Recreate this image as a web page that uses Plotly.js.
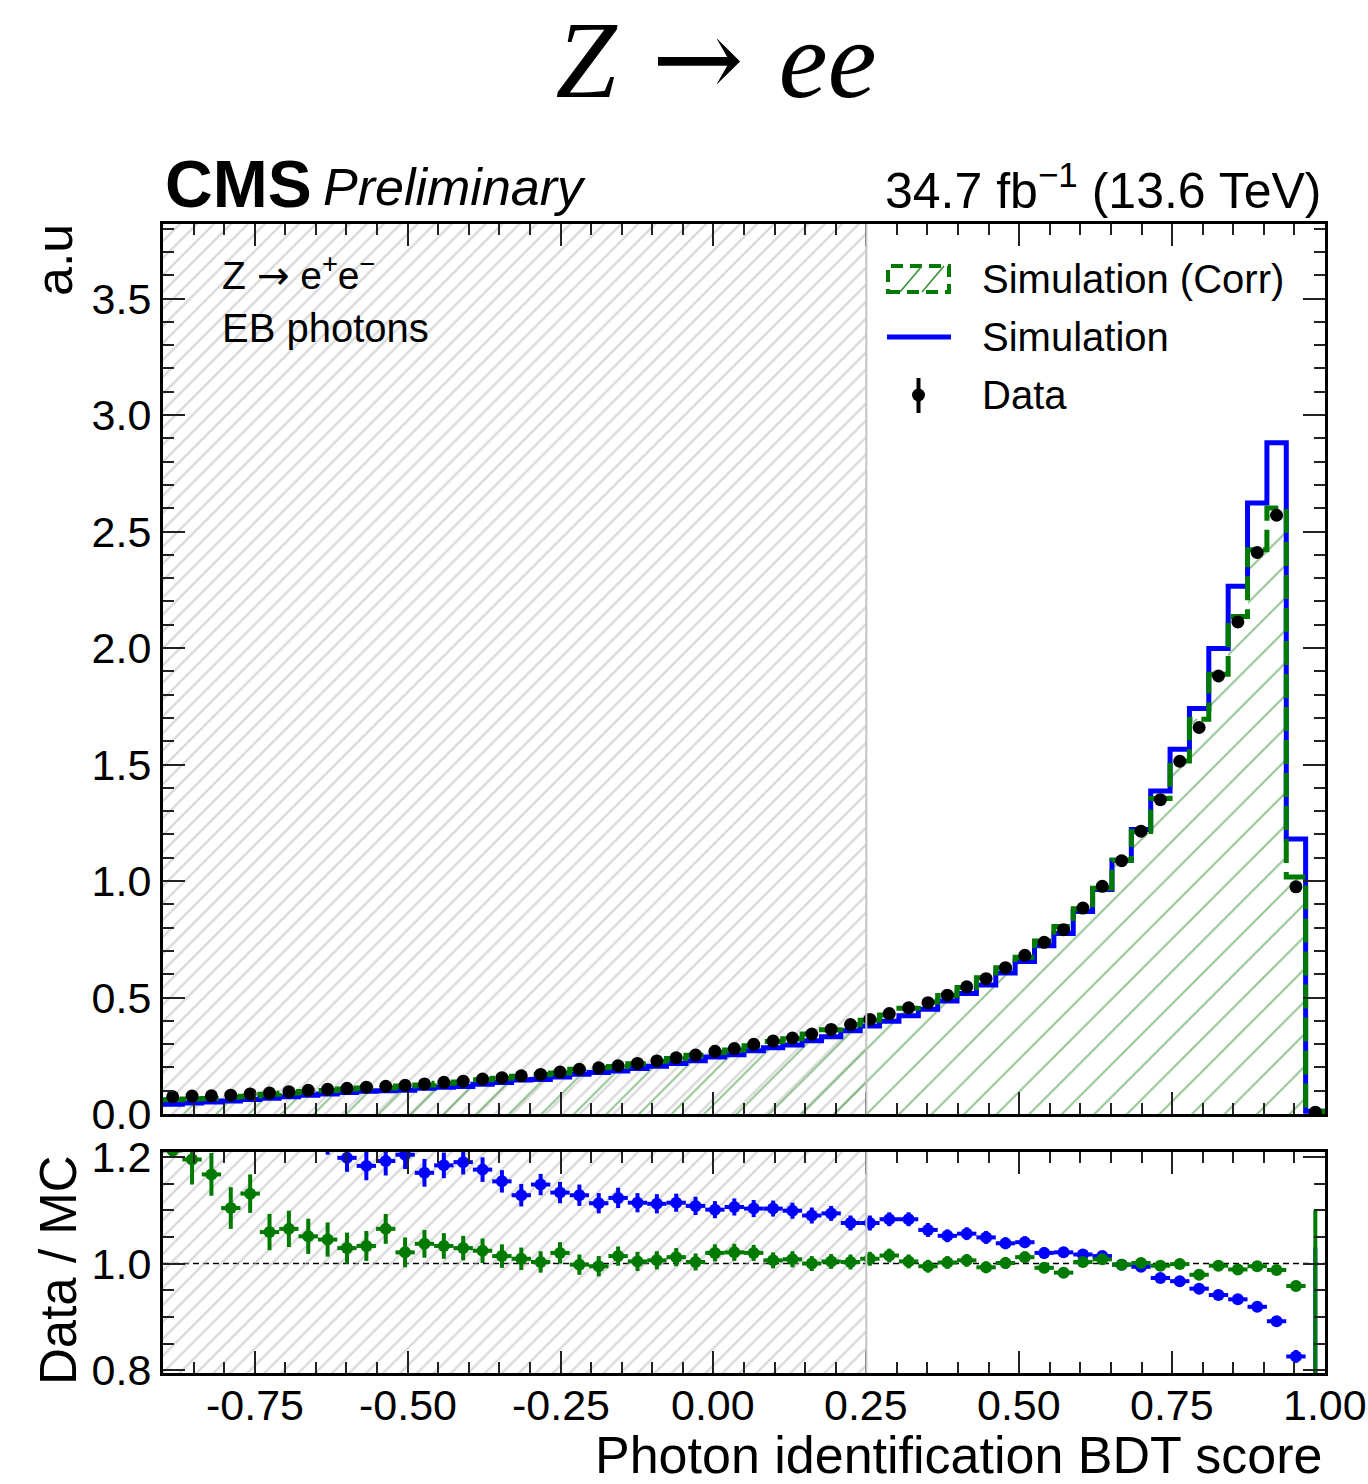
<!DOCTYPE html>
<html><head><meta charset="utf-8">
<script src="https://cdn.plot.ly/plotly-3.0.1.min.js"></script>
<style>html,body{margin:0;padding:0;background:#fff;}#chart{width:1368px;height:1484px;}</style>
</head><body><div id="chart"></div>
<script>
// ---- binning ----
const binLow = -0.9, binHigh = 1.0, nBins = 60;
const hatchHigh = 0.25;      // end of hatched (excluded) region
const refLine = 1.0;

// ---- data ----
const dataVals = [0.074,0.077,0.078,0.081,0.086,0.090,0.096,0.102,0.106,0.110,
  0.115,0.119,0.123,0.129,0.136,0.141,0.150,0.156,0.164,0.170,
  0.180,0.192,0.198,0.207,0.217,0.228,0.241,0.253,0.269,0.281,
  0.299,0.313,0.326,0.343,0.363,0.384,0.406,0.431,0.456,0.478,
  0.510,0.546,0.581,0.628,0.681,0.737,0.791,0.884,0.977,1.087,
  1.214,1.349,1.514,1.659,1.880,2.112,2.410,2.570,0.975,0.008];
const simVals = [0.0423,0.0475,0.0513,0.0559,0.0619,0.0672,0.0738,0.0803,0.0855,0.0918,
  0.0972,0.0998,0.1022,0.1103,0.1149,0.1185,0.1276,0.1352,0.1455,0.1481,
  0.1589,0.1703,0.1780,0.1843,0.1948,0.2050,0.2163,0.2284,0.2443,0.2541,
  0.2711,0.2839,0.2966,0.3147,0.3318,0.3569,0.3773,0.3982,0.4212,0.4499,
  0.4848,0.5170,0.5539,0.6053,0.6548,0.7225,0.7747,0.8692,0.9635,1.0892,
  1.2213,1.3864,1.5657,1.7408,1.9979,2.2649,2.6224,2.8812,1.1804,0.0115];
const simCorrVals = [0.0611,0.0644,0.0668,0.0734,0.0760,0.0850,0.0901,0.0971,0.1014,0.1069,
  0.1113,0.1117,0.1205,0.1244,0.1317,0.1370,0.1465,0.1538,0.1625,0.1695,
  0.1765,0.1924,0.1990,0.2041,0.2161,0.2266,0.2381,0.2522,0.2637,0.2752,
  0.2931,0.3111,0.3234,0.3430,0.3616,0.3829,0.4024,0.4246,0.4542,0.4804,
  0.5090,0.5427,0.5851,0.6274,0.6729,0.7429,0.8047,0.8814,0.9692,1.0892,
  1.2128,1.3544,1.5155,1.6946,1.8876,2.1355,2.4221,2.6012,1.0177,0.0114];
const ratioSim = [1.75,1.62,1.52,1.45,1.39,1.34,1.30,1.27,1.24,1.198,
  1.183,1.192,1.204,1.170,1.184,1.190,1.176,1.154,1.128,1.148,
  1.133,1.128,1.113,1.123,1.114,1.112,1.114,1.108,1.101,1.106,
  1.103,1.103,1.099,1.090,1.094,1.076,1.076,1.083,1.083,1.063,
  1.052,1.056,1.049,1.038,1.040,1.020,1.021,1.017,1.014,0.998,
  0.994,0.973,0.967,0.953,0.941,0.933,0.919,0.892,0.826,0.70];
const ratioSimErr = [0.06,0.055,0.05,0.048,0.045,0.042,0.04,0.038,0.036,0.026,
  0.027,0.027,0.027,0.026,0.024,0.023,0.023,0.021,0.021,0.020,
  0.020,0.020,0.019,0.019,0.018,0.018,0.017,0.017,0.016,0.016,
  0.016,0.015,0.015,0.015,0.014,0.014,0.014,0.013,0.013,0.013,
  0.012,0.012,0.012,0.011,0.011,0.011,0.010,0.010,0.010,0.009,
  0.009,0.009,0.008,0.008,0.008,0.007,0.007,0.007,0.012,0.33];
const ratioSimCorr = [1.212,1.195,1.167,1.104,1.131,1.059,1.065,1.051,1.045,1.029,
  1.033,1.065,1.021,1.037,1.033,1.029,1.024,1.014,1.009,1.003,
  1.020,0.998,0.995,1.014,1.004,1.006,1.012,1.003,1.020,1.021,
  1.020,1.006,1.008,1.000,1.004,1.003,1.009,1.015,1.004,0.995,
  1.002,1.006,0.993,1.001,1.012,0.992,0.983,1.003,1.008,0.998,
  1.001,0.996,0.999,0.979,0.996,0.989,0.995,0.988,0.958,0.70];
const ratioSimCorrErr = [0.012,0.047,0.040,0.039,0.036,0.034,0.034,0.033,0.032,0.029,
  0.028,0.028,0.028,0.026,0.024,0.023,0.023,0.022,0.021,0.020,
  0.020,0.019,0.019,0.018,0.018,0.017,0.017,0.016,0.016,0.016,
  0.015,0.015,0.015,0.014,0.014,0.014,0.013,0.013,0.013,0.012,
  0.012,0.012,0.011,0.011,0.011,0.010,0.010,0.010,0.009,0.009,
  0.009,0.008,0.008,0.008,0.007,0.007,0.007,0.006,0.010,0.400];

// ---- tick labels ----
const xTickVals = [-0.75,-0.50,-0.25,0.00,0.25,0.50,0.75,1.00];
const xTickText = ['-0.75','-0.50','-0.25','0.00','0.25','0.50','0.75','1.00'];
const yTickVals = [0,0.5,1.0,1.5,2.0,2.5,3.0,3.5];
const yTickText = ['0.0','0.5','1.0','1.5','2.0','2.5','3.0','3.5'];
const rTickVals = [0.8,1.0,1.2];
const rTickText = ['0.8','1.0','1.2'];

// ---- derived bin geometry ----
const binW = (binHigh - binLow) / nBins;
const centers = dataVals.map((_, i) => binLow + (i + 0.5) * binW);
const edges = Array.from({length: nBins + 1}, (_, i) => binLow + i * binW);
const stepX = edges.concat([binHigh]);
const stepY = v => v.concat([v[v.length - 1], 0]);

// ---- styles ----
const GREEN = '#007a00', BLUE = '#0000ff';
const SANS = 'Liberation Sans, Arial, Helvetica, sans-serif';
const W = 1368, H = 1484;
const L = 163, R = 1325, T = 224, B = 1373;
const px = x => (x - L) / (R - L);
const py = y => (B - y) / (B - T);
const mainBottom = 1114, ratioTop = 1152;
const grayHatch = {shape:'/', fgcolor:'#b4b4b4', bgcolor:'rgba(0,0,0,0)', size:12, solidity:0.2, fillmode:'overlay'};

const traces = [
  {type:'bar', x:[(binLow + hatchHigh) / 2], y:[10], base:[0], width:[hatchHigh - binLow],
   xaxis:'x', yaxis:'y', hoverinfo:'skip', showlegend:false,
   marker:{color:'rgba(0,0,0,0)', line:{width:0}, pattern:grayHatch}},
  {type:'bar', x:[(binLow + hatchHigh) / 2], y:[2], base:[0], width:[hatchHigh - binLow],
   xaxis:'x2', yaxis:'y2', hoverinfo:'skip', showlegend:false,
   marker:{color:'rgba(0,0,0,0)', line:{width:0}, pattern:grayHatch}},
  {type:'bar', x:centers, y:simCorrVals, width:binW, xaxis:'x', yaxis:'y', showlegend:false,
   marker:{color:'rgba(0,0,0,0)', line:{width:0},
     pattern:{shape:'/', fgcolor:'#278a27', bgcolor:'rgba(0,0,0,0)', size:23, solidity:0.09, fillmode:'overlay'}}},
  {type:'scatter', mode:'lines', x:stepX, y:stepY(simVals), xaxis:'x', yaxis:'y', showlegend:false,
   line:{shape:'hv', color:BLUE, width:5}},
  {type:'scatter', mode:'lines', x:stepX, y:stepY(simCorrVals), xaxis:'x', yaxis:'y', showlegend:false,
   line:{shape:'hv', color:GREEN, width:5, dash:'24px,9px'}},
  {type:'scatter', mode:'markers', x:centers, y:dataVals, xaxis:'x', yaxis:'y', showlegend:false,
   marker:{color:'black', size:13}},
  {type:'scatter', mode:'markers', x:centers, y:ratioSim, xaxis:'x2', yaxis:'y2', showlegend:false,
   marker:{color:BLUE, size:12},
   error_y:{type:'data', array:ratioSimErr, color:BLUE, thickness:4, width:0},
   error_x:{type:'constant', value:binW / 2, color:BLUE, thickness:4, width:0}},
  {type:'scatter', mode:'markers', x:centers, y:ratioSimCorr, xaxis:'x2', yaxis:'y2', showlegend:false,
   marker:{color:GREEN, size:12},
   error_y:{type:'data', array:ratioSimCorrErr, color:GREEN, thickness:4, width:0},
   error_x:{type:'constant', value:binW / 2, color:GREEN, thickness:4, width:0}}
];

const axBase = {
  showline:true, linecolor:'black', linewidth:3, mirror:'allticks',
  ticks:'inside', ticklen:22, tickwidth:2, tickcolor:'#222',
  showgrid:false, zeroline:false, tickmode:'array',
  tickfont:{family:SANS, size:43, color:'black'}
};
const minorX = {ticks:'inside', ticklen:11, tickwidth:2, tickcolor:'#222', tickmode:'linear', tick0:0, dtick:0.05, showgrid:false};

const annotations = [
  {text:'<b>CMS</b>', xref:'paper', yref:'paper', x:0, y:py(184), xanchor:'left', yanchor:'middle', showarrow:false,
   font:{family:SANS, size:66, color:'black'}},
  {text:'<i>Preliminary</i>', xref:'paper', yref:'paper', x:px(321), y:py(187), xanchor:'left', yanchor:'middle', showarrow:false,
   font:{family:SANS, size:52, color:'black'}},
  {text:'34.7 fb<sup>−1</sup> (13.6 TeV)', xref:'paper', yref:'paper', x:px(1323), y:py(187), xanchor:'right', yanchor:'middle', showarrow:false,
   font:{family:SANS, size:50, color:'black'}},
  {text:'Z <span style="font-family:DejaVu Sans">→</span> e<sup>+</sup>e<sup>−</sup>', xref:'paper', yref:'paper', x:px(220), y:py(273), xanchor:'left', yanchor:'middle', showarrow:false,
   font:{family:SANS, size:39, color:'black'}},
  {text:'EB photons', xref:'paper', yref:'paper', x:px(220), y:py(328), xanchor:'left', yanchor:'middle', showarrow:false,
   font:{family:SANS, size:40, color:'black'}},
  {text:'Simulation (Corr)', xref:'paper', yref:'paper', x:px(980), y:py(279), xanchor:'left', yanchor:'middle', showarrow:false,
   font:{family:SANS, size:40, color:'black'}},
  {text:'Simulation', xref:'paper', yref:'paper', x:px(980), y:py(337), xanchor:'left', yanchor:'middle', showarrow:false,
   font:{family:SANS, size:40, color:'black'}},
  {text:'Data', xref:'paper', yref:'paper', x:px(980), y:py(395), xanchor:'left', yanchor:'middle', showarrow:false,
   font:{family:SANS, size:40, color:'black'}},
  {text:'a.u', xref:'paper', yref:'paper', x:px(54), y:py(222), xanchor:'center', yanchor:'top', textangle:-90, showarrow:false,
   font:{family:SANS, size:52, color:'black'}},
  {text:'Data / MC', xref:'paper', yref:'paper', x:px(58), y:py(1270), xanchor:'center', yanchor:'middle', textangle:-90, showarrow:false,
   font:{family:SANS, size:51, color:'black'}},
  {text:'Photon identification BDT score', xref:'paper', yref:'paper', x:px(1324), y:py(1455), xanchor:'right', yanchor:'middle', showarrow:false,
   font:{family:SANS, size:52, color:'black'}}
];
// x tick labels of the ratio panel, placed at their tick values
xTickVals.forEach((v, i) => annotations.push({
  text:xTickText[i], xref:'x2', x:v, yref:'paper', y:py(1405), xanchor:'center', yanchor:'middle',
  showarrow:false, font:{family:SANS, size:43, color:'black'}}));

const layout = {
  width:W, height:H, paper_bgcolor:'white', plot_bgcolor:'white',
  margin:{l:L, r:W - R, t:T, b:H - B, pad:0},
  barmode:'overlay', bargap:0, showlegend:false,
  title:{text:'<i>Z</i><span style="font-family:DejaVu Serif"> → </span><i>ee</i>',
    font:{family:'Liberation Serif, Times New Roman, serif', size:110, color:'black'},
    xref:'container', x:716 / W, xanchor:'center', yref:'container', y:1 - 58 / H, yanchor:'middle'},
  xaxis:Object.assign({}, axBase, {range:[binLow, binHigh], tickvals:xTickVals, ticktext:xTickText,
    showticklabels:false, anchor:'y', minor:minorX}),
  xaxis2:Object.assign({}, axBase, {range:[binLow, binHigh], tickvals:xTickVals, ticktext:xTickText,
    showticklabels:false, anchor:'y2', matches:'x', minor:minorX}),
  yaxis:Object.assign({}, axBase, {range:[0, 3.82], tickvals:yTickVals, ticktext:yTickText,
    domain:[py(mainBottom), 1], anchor:'x', ticklabelstandoff:0,
    minor:{ticks:'inside', ticklen:11, tickwidth:2, tickcolor:'#222', tickmode:'linear', tick0:0, dtick:0.1}}),
  yaxis2:Object.assign({}, axBase, {range:[0.795, 1.209], tickvals:rTickVals, ticktext:rTickText,
    domain:[0, py(ratioTop)], anchor:'x2', ticklabelstandoff:0,
    minor:{ticks:'inside', ticklen:11, tickwidth:2, tickcolor:'#222', tickmode:'linear', tick0:0, dtick:0.05}}),
  shapes:[
    {type:'line', xref:'x', yref:'y domain', x0:hatchHigh, x1:hatchHigh, y0:0, y1:1, line:{color:'#c4c4c4', width:2}},
    {type:'line', xref:'x2', yref:'y2 domain', x0:hatchHigh, x1:hatchHigh, y0:0, y1:1, line:{color:'#c4c4c4', width:2}},
    {type:'line', xref:'x2 domain', yref:'y2', x0:0, x1:1, y0:refLine, y1:refLine, layer:'below',
     line:{color:'black', width:1.5, dash:'6px,4px'}},
    {type:'rect', xref:'paper', yref:'paper', x0:px(888), x1:px(949), y0:py(292), y1:py(266),
     line:{color:GREEN, width:4, dash:'12px,7px'}, fillcolor:'rgba(0,0,0,0)'},
    {type:'line', xref:'paper', yref:'paper', x0:px(900), x1:px(922), y0:py(292), y1:py(266), line:{color:'#2f8f2f', width:1.5}},
    {type:'line', xref:'paper', yref:'paper', x0:px(922), x1:px(944), y0:py(292), y1:py(266), line:{color:'#2f8f2f', width:1.5}},
    {type:'line', xref:'paper', yref:'paper', x0:px(887), x1:px(951), y0:py(337), y1:py(337), line:{color:BLUE, width:5}},
    {type:'line', xref:'paper', yref:'paper', x0:px(918.5), x1:px(918.5), y0:py(378), y1:py(413), line:{color:'black', width:4}},
    {type:'circle', xref:'paper', yref:'paper', x0:px(912), x1:px(925), y0:py(401.5), y1:py(388.5),
     fillcolor:'black', line:{color:'black', width:0}}
  ],
  annotations:annotations
};

Plotly.newPlot('chart', traces, layout, {displayModeBar:false, staticPlot:true});
</script>
</body></html>
